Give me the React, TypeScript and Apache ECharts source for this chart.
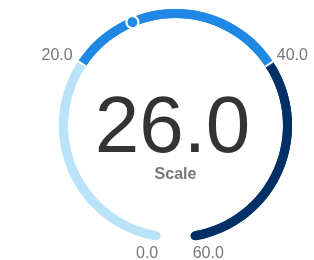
import React, { useEffect, useRef } from 'react';
import * as echarts from 'echarts';

const gaugeMin = 0;
const gaugeMax = 60;
const splitCount = 3;
const gaugeValue = 26;
const titleText = 'Scale';
const bandStops = [1 / 3, 2 / 3, 1];
const bandColors = ['#b9e3f9', '#1f88e5', '#022f66'];
const labelTags = ['a', 'b', 'c', 'd'];

export default function App() {
  const ref = useRef<HTMLDivElement>(null);
  useEffect(() => {
    const chart = echarts.init(ref.current!, null, { renderer: 'svg' });
    const font = '"Liberation Sans", Arial, sans-serif';
    const gap = 0.0016;
    const topColors: [number, string][] = [];
    bandStops.forEach((s, i) => {
      if (i < bandStops.length - 1) {
        topColors.push([s - gap, bandColors[i]]);
        topColors.push([s + gap, '#ffffff']);
      } else {
        topColors.push([s, bandColors[i]]);
      }
    });
    const capColors = bandStops.map((s, i) => [s, bandColors[i]]);
    const common = {
      type: 'gauge',
      center: [175.5, 125.5],
      radius: 116.5,
      startAngle: 260,
      endAngle: -80,
      min: gaugeMin,
      max: gaugeMax,
      splitNumber: splitCount,
      axisTick: { show: false },
      splitLine: { show: false, length: 0, distance: 0 },
    };
    const richBase = { fontSize: 16, fontFamily: font, color: '#777777' };
    chart.setOption({
      animation: false,
      series: [
        {
          ...common,
          z: 1,
          axisLine: { roundCap: true, lineStyle: { width: 9, color: capColors } },
          axisLabel: { show: false },
          pointer: { show: false },
          anchor: { show: false },
          title: { show: false },
          detail: { show: false },
          data: [{ value: gaugeValue }],
        },
        {
          ...common,
          z: 2,
          axisLine: { roundCap: false, lineStyle: { width: 9, color: topColors } },
          axisLabel: {
            show: true,
            distance: -12,
            rotate: 0.01,
            fontSize: 16,
            fontFamily: font,
            color: '#777777',
            formatter: (v: number) => {
              const idx = Math.round(((v - gaugeMin) / (gaugeMax - gaugeMin)) * splitCount);
              return '{' + labelTags[idx] + '|' + v.toFixed(1) + '}';
            },
            rich: {
              a: { ...richBase, padding: [0, 12, 0, 0] },
              b: { ...richBase, padding: [0, 22, 0, 0] },
              c: { ...richBase, padding: [0, 0, 0, 19] },
              d: { ...richBase, padding: [0, 0, 0, 21] },
            },
          },
          pointer: {
            show: true,
            icon: 'circle',
            length: 12,
            width: 12,
            offsetCenter: [0, -106],
            itemStyle: { color: '#1f88e5', borderColor: '#ffffff', borderWidth: 2 },
          },
          anchor: { show: false },
          title: {
            show: true,
            offsetCenter: [0, 48],
            fontSize: 16,
            lineHeight: 16,
            fontWeight: 'bold',
            fontFamily: font,
            color: '#777777',
          },
          detail: {
            show: true,
            offsetCenter: [-3, -1],
            fontSize: 80,
            fontWeight: 'normal',
            lineHeight: 62,
            fontFamily: font,
            color: '#333333',
            valueAnimation: false,
            formatter: (v: number) => v.toFixed(1),
          },
          data: [{ value: gaugeValue, name: titleText }],
        },
      ],
    });
    return () => chart.dispose();
  }, []);
  return (
    <div
      ref={ref}
      style={{ position: 'fixed', left: 0, top: 0, width: 314, height: 260 }}
    />
  );
}
